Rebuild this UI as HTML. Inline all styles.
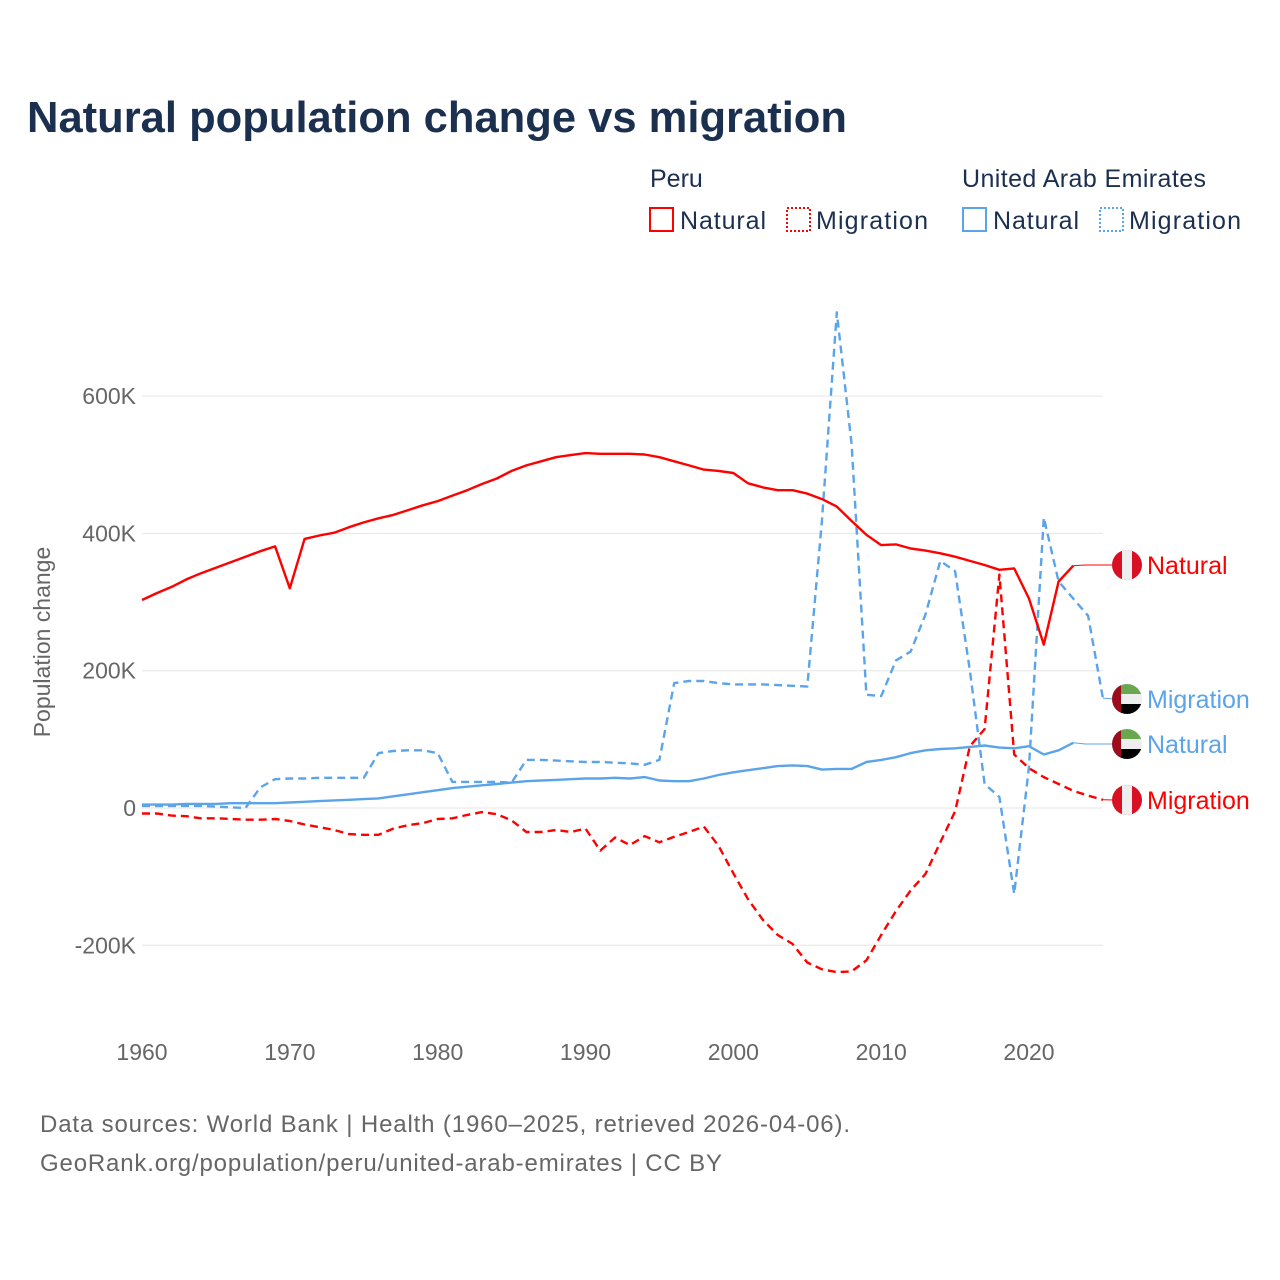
<!DOCTYPE html>
<html><head><meta charset="utf-8">
<style>
body{margin:0;background:#fff;font-family:"Liberation Sans",sans-serif;}
#wrap{position:relative;width:1280px;height:1280px;overflow:hidden;}
</style></head>
<body>
<div id="wrap">
<svg id="chart" width="1280" height="1280" xmlns="http://www.w3.org/2000/svg">
<text x="27" y="132" font-size="44" font-weight="bold" fill="#1b2f4f" textLength="820" lengthAdjust="spacingAndGlyphs">Natural population change vs migration</text>
<g font-size="25" fill="#1b2f4f">
<text x="650" y="187">Peru</text>
<text x="962" y="187" textLength="244">United Arab Emirates</text>
<g><rect x="650" y="208" width="23" height="23" fill="none" stroke="#ff0000" stroke-width="2"/><text x="680" y="229" textLength="86">Natural</text></g>
<g><rect x="787" y="208" width="23" height="23" fill="none" stroke="#ff0000" stroke-width="2" stroke-dasharray="2,2"/><text x="816" y="229" textLength="112">Migration</text></g>
<g><rect x="963" y="208" width="23" height="23" fill="none" stroke="#5ba4ea" stroke-width="2"/><text x="993" y="229" textLength="86">Natural</text></g>
<g><rect x="1100" y="208" width="23" height="23" fill="none" stroke="#5ba4ea" stroke-width="2" stroke-dasharray="2,2"/><text x="1129" y="229" textLength="112">Migration</text></g>
</g>
<text transform="translate(50,642) rotate(-90)" text-anchor="middle" font-size="23" fill="#666">Population change</text>
<g id="grid"></g>
<g id="yticks" font-size="23" fill="#666" text-anchor="end"></g>
<g id="xticks" font-size="23" fill="#666" text-anchor="middle"></g>
<g id="series"></g>
<g id="labels" font-size="25"></g>
<text x="40" y="1132" font-size="24" fill="#666" textLength="810">Data sources: World Bank | Health (1960–2025, retrieved 2026-04-06).</text>
<text x="40" y="1171" font-size="24" fill="#666" textLength="682">GeoRank.org/population/peru/united-arab-emirates | CC BY</text>
</svg>
</div>
<script>
const startYear = 1960;
const xTicks = [1960,1970,1980,1990,2000,2010,2020];
const yTicks = [-200,0,200,400,600];
const yTickLabels = ["-200K","0","200K","400K","600K"];
const peruNatural = [303,313,322,333,342,350,358,366,374,381,320,392,397,401,409,416,422,427,434,441,447,455,463,472,480,491,499,505,511,514,517,516,516,516,515,511,505,499,493,491,488,473,467,463,463,458,450,439,418,398,383,384,378,375,371,366,360,354,347,349,305,238,330,353];
const peruMigration = [-8,-8,-11,-12,-15,-15,-16,-17,-17,-16,-19,-24,-28,-32,-38,-39,-39,-30,-25,-22,-16,-15,-10,-6,-9,-18,-35,-35,-32,-35,-30,-62,-43,-54,-41,-50,-42,-35,-27,-55,-95,-133,-163,-185,-198,-225,-235,-239,-238,-222,-185,-150,-120,-96,-50,-5,90,115,340,78,58,45,35,25,18,12];
const uaeNatural = [5,5,5,6,6,6,7,7,7,7,8,9,10,11,12,13,14,17,20,23,26,29,31,33,35,37,39,40,41,42,43,43,44,43,45,40,39,39,43,48,52,55,58,61,62,61,56,57,57,67,70,74,80,84,86,87,89,91,88,87,90,78,84,95];
const uaeMigration = [3,3,3,3,3,2,1,0,30,42,43,43,44,44,44,44,80,83,84,84,80,38,38,38,38,37,70,70,69,68,67,67,66,65,63,70,182,185,185,182,180,180,180,179,178,177,420,722,530,165,163,215,228,282,360,345,200,35,16,-125,60,423,330,305,280,160];

const NS="http://www.w3.org/2000/svg";
const X = yr => 142 + (yr-1960)*(1029-142)/60;
const Y = v => 808 - v*137.3/200;
function mk(tag, attrs, parent){const e=document.createElementNS(NS,tag);for(const k in attrs)e.setAttribute(k,attrs[k]);parent.appendChild(e);return e;}
const grid=document.getElementById('grid'), yt=document.getElementById('yticks'), xt=document.getElementById('xticks');
yTicks.forEach((v,i)=>{
  const l=mk('line',{x1:142,x2:1103,y1:Y(v),y2:Y(v),stroke:'#e6e6e6','stroke-width':1},grid);
  
  
  const t=mk('text',{x:136,y:Y(v)+8},yt);t.textContent=yTickLabels[i];
  
  
});
xTicks.forEach(yr=>{
  const t=mk('text',{x:X(yr),y:1060},xt);t.textContent=yr;
  
  
});
const ser=document.getElementById('series');
function line(data,color,dash,name){
  const pts=data.map((v,i)=>X(startYear+i).toFixed(1)+','+Y(v).toFixed(1)).join(' ');
  const p=mk('polyline',{points:pts,fill:'none',stroke:color,'stroke-width':2.4,'stroke-linejoin':'round'},ser);
  if(dash)p.setAttribute('stroke-dasharray','8,5');
  
  
  return [X(startYear+data.length-1),Y(data[data.length-1])];
}
const red='#ff0000', blue='#5ba4ea';
const e1=line(uaeMigration,blue,true,'line-uae-migration');
const e2=line(uaeNatural,blue,false,'line-uae-natural');
const e3=line(peruMigration,red,true,'line-peru-migration');
const e4=line(peruNatural,red,false,'line-peru-natural');
const lab=document.getElementById('labels');
function endLabel(end,ly,color,text,flag,name){
  const c=mk('polyline',{points:`${end[0]},${end[1]} ${end[0]+12},${ly} 1112,${ly}`,fill:'none',stroke:color,'stroke-width':1},lab);
  
  
  const g=mk('g',{},lab);
  
  
  const cx=1127, r=15, id='clip'+name;
  const cp=mk('clipPath',{id:id},g);mk('circle',{cx:cx,cy:ly,r:r},cp);
  const gg=mk('g',{'clip-path':`url(#${id})`},g);
  if(flag==='peru'){
    mk('rect',{x:cx-r,y:ly-r,width:2*r,height:2*r,fill:'#d91023'},gg);
    mk('rect',{x:cx-r/3,y:ly-r,width:2*r/3,height:2*r,fill:'#eeeeee'},gg);
  } else {
    mk('rect',{x:cx-r,y:ly-r,width:2*r,height:2*r/3,fill:'#6aa84f'},gg);
    mk('rect',{x:cx-r,y:ly-r/3,width:2*r,height:2*r/3,fill:'#eeeeee'},gg);
    mk('rect',{x:cx-r,y:ly+r/3,width:2*r,height:2*r/3,fill:'#000'},gg);
    mk('rect',{x:cx-r,y:ly-r,width:r*0.6,height:2*r,fill:'#9b0c1c'},gg);
  }
  const t=mk('text',{x:1147,y:ly+9,fill:color},lab);t.textContent=text;
  
  
}
endLabel(e4,565,red,'Natural','peru','end-peru-natural');
endLabel(e1,699,blue,'Migration','uae','end-uae-migration');
endLabel(e2,744,blue,'Natural','uae','end-uae-natural');
endLabel(e3,800,red,'Migration','peru','end-peru-migration');
</script>
</body></html>
